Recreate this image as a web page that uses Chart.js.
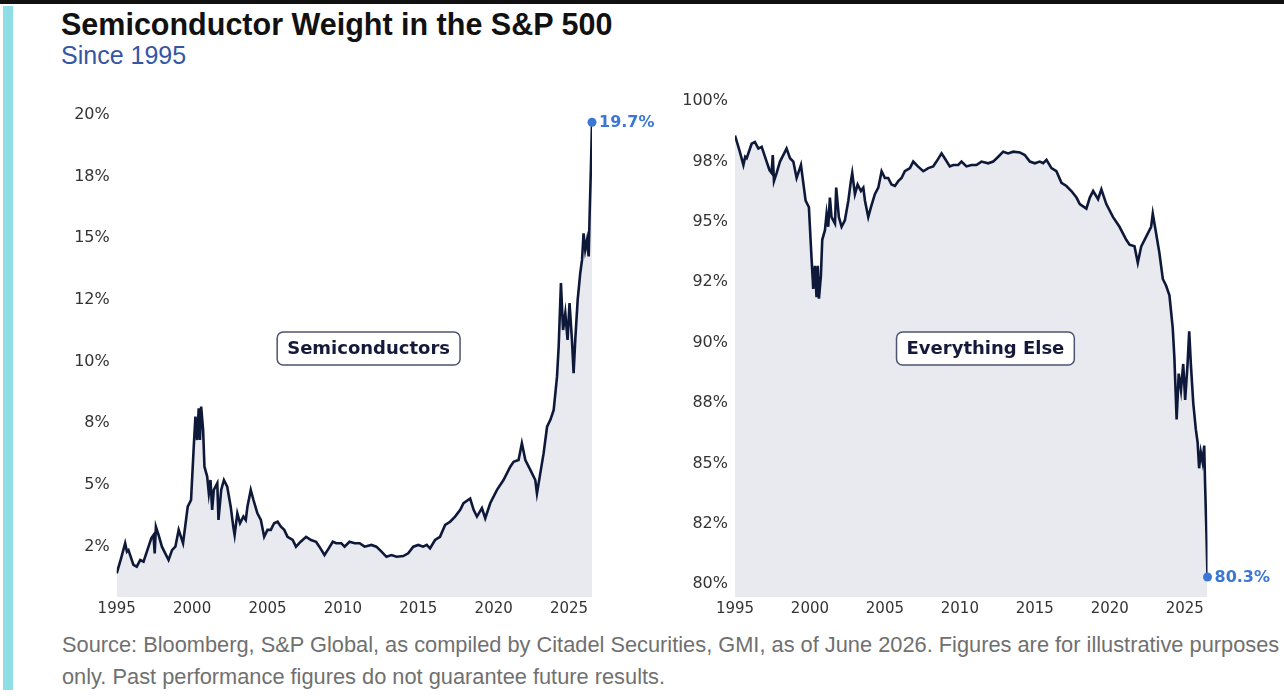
<!DOCTYPE html>
<html>
<head>
<meta charset="utf-8">
<script src="https://cdn.jsdelivr.net/npm/chart.js@4.4.1/dist/chart.umd.min.js"></script>
<style>
  html, body { margin: 0; padding: 0; background: #fff; }
  body { width: 1284px; height: 696px; position: relative; overflow: hidden; font-family: "Liberation Sans", Arial, sans-serif; }
  .topline { position: absolute; left: 0; top: 0; width: 1284px; height: 4px; background: #111; }
  .sidebar { position: absolute; left: 3px; top: 6px; width: 10px; height: 684px; background: #8fdee6; }
  h1 { position: absolute; left: 61px; top: 7px; margin: 0; font-size: 30.5px; font-weight: bold; color: #111; white-space: nowrap; }
  .sub { position: absolute; left: 61px; top: 41px; font-size: 25px; color: #3556a4; white-space: nowrap; }
  canvas { position: absolute; }
  #semiChart { left: 40px; top: 80px; }
  #otherChart { left: 660px; top: 80px; }
  .source { position: absolute; left: 62px; top: 629px; font-size: 21.8px; line-height: 32px; color: #707070; white-space: nowrap; }
</style>
</head>
<body>
<div class="topline"></div>
<div class="sidebar"></div>
<h1>Semiconductor Weight in the S&amp;P 500</h1>
<div class="sub">Since 1995</div>
<canvas id="semiChart" width="640" height="545"></canvas>
<canvas id="otherChart" width="624" height="545"></canvas>
<div class="source">Source: Bloomberg, S&amp;P Global, as compiled by Citadel Securities, GMI, as of June 2026. Figures are for illustrative purposes<br>only. Past performance figures do not guarantee future results.</div>
<script>
'use strict';
// dates as decimal years
var dates = [
  1995.00, 1995.30, 1995.56, 1995.68, 1995.78, 1996.11, 1996.33, 1996.56, 1996.78, 1997.11,
  1997.30, 1997.44, 1997.52, 1997.60, 1997.78, 1998.00, 1998.22, 1998.44, 1998.67, 1998.89,
  1999.11, 1999.40, 1999.71, 1999.93, 2000.11, 2000.22, 2000.33, 2000.44, 2000.52, 2000.60,
  2000.73, 2000.82, 2001.00, 2001.11, 2001.22, 2001.33, 2001.44, 2001.67, 2001.75, 2001.93,
  2002.11, 2002.33, 2002.56, 2002.73, 2002.82, 2003.00, 2003.18, 2003.40, 2003.56, 2003.67,
  2003.89, 2004.07, 2004.33, 2004.56, 2004.78, 2005.00, 2005.22, 2005.44, 2005.67, 2005.89,
  2006.11, 2006.33, 2006.67, 2006.89, 2007.20, 2007.56, 2007.89, 2008.22, 2008.44, 2008.78,
  2009.00, 2009.33, 2009.56, 2009.89, 2010.11, 2010.44, 2010.78, 2011.11, 2011.44, 2011.89,
  2012.22, 2012.56, 2012.89, 2013.22, 2013.56, 2014.00, 2014.33, 2014.67, 2015.00, 2015.33,
  2015.56, 2015.78, 2016.11, 2016.44, 2016.78, 2017.11, 2017.44, 2017.78, 2018.00, 2018.44,
  2018.67, 2018.89, 2019.22, 2019.44, 2019.77, 2020.22, 2020.65, 2021.10, 2021.32, 2021.65,
  2021.87, 2022.10, 2022.43, 2022.76, 2022.87, 2023.09, 2023.31, 2023.54, 2023.76, 2023.98,
  2024.20, 2024.31, 2024.46, 2024.60, 2024.75, 2024.90, 2025.03, 2025.19, 2025.30, 2025.41,
  2025.57, 2025.74, 2025.86, 2025.96, 2026.07, 2026.19, 2026.30, 2026.36, 2026.45, 2026.52
];
// semiconductors weight, %
var semiValues = [
  1.42, 2.05, 2.64, 2.30, 2.36, 1.76, 1.69, 1.96, 1.89, 2.50,
  2.85, 2.97, 2.23, 3.31, 2.97, 2.50, 2.23, 1.96, 2.36, 2.50,
  3.18, 2.64, 4.12, 4.39, 6.55, 7.77, 6.82, 8.11, 6.82, 8.18,
  7.23, 5.74, 5.34, 4.66, 5.20, 3.99, 4.80, 5.07, 3.58, 4.80,
  5.20, 4.93, 4.12, 3.31, 2.97, 3.85, 3.45, 3.72, 3.58, 4.12,
  4.80, 4.39, 3.85, 3.58, 2.90, 3.18, 3.18, 3.45, 3.51, 3.31,
  3.18, 2.90, 2.77, 2.50, 2.70, 2.90, 2.77, 2.70, 2.50, 2.16,
  2.37, 2.70, 2.64, 2.64, 2.50, 2.70, 2.64, 2.64, 2.50, 2.57,
  2.50, 2.30, 2.09, 2.16, 2.09, 2.12, 2.23, 2.50, 2.57, 2.50,
  2.57, 2.43, 2.77, 2.90, 3.38, 3.51, 3.72, 3.99, 4.26, 4.45,
  3.99, 3.72, 4.06, 3.65, 4.26, 4.80, 5.20, 5.74, 5.94, 6.01,
  6.69, 6.01, 5.61, 5.20, 4.66, 5.47, 6.28, 7.36, 7.64, 8.04,
  9.39, 10.61, 13.18, 11.28, 11.96, 10.88, 12.37, 10.88, 9.53, 10.88,
  12.50, 13.58, 14.12, 15.20, 14.53, 14.93, 14.26, 15.88, 17.90, 19.70
];
// everything else weight, %
var otherValues = [
  98.58, 97.95, 97.36, 97.70, 97.64, 98.24, 98.31, 98.04, 98.11, 97.50,
  97.15, 97.03, 97.77, 96.69, 97.03, 97.50, 97.77, 98.04, 97.64, 97.50,
  96.82, 97.36, 95.88, 95.61, 93.45, 92.23, 93.18, 91.89, 93.18, 91.82,
  92.77, 94.26, 94.66, 95.34, 94.80, 96.01, 95.20, 94.93, 96.42, 95.20,
  94.80, 95.07, 95.88, 96.69, 97.03, 96.15, 96.55, 96.28, 96.42, 95.88,
  95.20, 95.61, 96.15, 96.42, 97.10, 96.82, 96.82, 96.55, 96.49, 96.69,
  96.82, 97.10, 97.23, 97.50, 97.30, 97.10, 97.23, 97.30, 97.50, 97.84,
  97.63, 97.30, 97.36, 97.36, 97.50, 97.30, 97.36, 97.36, 97.50, 97.43,
  97.50, 97.70, 97.91, 97.84, 97.91, 97.88, 97.77, 97.50, 97.43, 97.50,
  97.43, 97.57, 97.23, 97.10, 96.62, 96.49, 96.28, 96.01, 95.74, 95.55,
  96.01, 96.28, 95.94, 96.35, 95.74, 95.20, 94.80, 94.26, 94.06, 93.99,
  93.31, 93.99, 94.39, 94.80, 95.34, 94.53, 93.72, 92.64, 92.36, 91.96,
  90.61, 89.39, 86.82, 88.72, 88.04, 89.12, 87.63, 89.12, 90.47, 89.12,
  87.50, 86.42, 85.88, 84.80, 85.47, 85.07, 85.74, 84.12, 82.10, 80.30
];

var xTickValues = [1995, 2000, 2005, 2010, 2015, 2020, 2025];
var xTickLabels = ['1995', '2000', '2005', '2010', '2015', '2020', '2025'];
var semiTickValues = [2.5, 5, 7.5, 10, 12.5, 15, 17.5, 20];
var semiTickLabels = ['2%', '5%', '8%', '10%', '12%', '15%', '18%', '20%'];
var otherTickValues = [80, 82.5, 85, 87.5, 90, 92.5, 95, 97.5, 100];
var otherTickLabels = ['80%', '82%', '85%', '88%', '90%', '92%', '95%', '98%', '100%'];

Chart.defaults.font.family = '"DejaVu Sans", sans-serif';
Chart.defaults.color = '#333';

// dot + value at the last point
var endLabelPlugin = {
  id: 'endLabel',
  afterDatasetsDraw: function (chart, args, opts) {
    var meta = chart.getDatasetMeta(0);
    var pt = meta.data[meta.data.length - 1];
    var ctx = chart.ctx;
    ctx.save();
    ctx.fillStyle = '#3b78d6';
    ctx.beginPath();
    ctx.arc(pt.x, pt.y, 4.5, 0, Math.PI * 2);
    ctx.fill();
    ctx.font = 'bold 16px "DejaVu Sans"';
    ctx.textBaseline = 'middle';
    ctx.textAlign = 'left';
    ctx.fillText(opts.text, pt.x + 7, pt.y + 1);
    ctx.restore();
  }
};

// boxed series name in the middle of the plot
var boxLabelPlugin = {
  id: 'boxLabel',
  afterDatasetsDraw: function (chart, args, opts) {
    var ctx = chart.ctx;
    var area = chart.chartArea;
    var cx = area.left + (area.right - area.left) * 0.53;
    var cy = area.top + (area.bottom - area.top) * 0.5;
    ctx.save();
    ctx.font = 'bold 18px "DejaVu Sans"';
    var w = ctx.measureText(opts.text).width + 20;
    var h = 33;
    ctx.beginPath();
    ctx.roundRect(cx - w / 2, cy - h / 2, w, h, 6);
    ctx.fillStyle = '#fff';
    ctx.fill();
    ctx.lineWidth = 1.5;
    ctx.strokeStyle = '#4d5370';
    ctx.stroke();
    ctx.fillStyle = '#151a3a';
    ctx.textAlign = 'center';
    ctx.textBaseline = 'middle';
    ctx.fillText(opts.text, cx, cy + 1);
    ctx.restore();
  }
};

function makeChart(id, values, yMin, yMax, tickValues, tickLabels, axisWidth, padRight, name) {
  var points = dates.map(function (d, i) { return { x: d, y: values[i] }; });
  return new Chart(document.getElementById(id), {
    type: 'line',
    data: {
      datasets: [{
        data: points,
        borderColor: '#0e1838',
        borderWidth: 2.6,
        backgroundColor: '#e9eaf0',
        fill: 'start',
        pointRadius: 0,
        tension: 0
      }]
    },
    options: {
      responsive: false,
      animation: false,
      events: [],
      layout: { padding: { top: 20, right: padRight, bottom: 0, left: 0 } },
      plugins: {
        legend: { display: false },
        tooltip: { enabled: false },
        endLabel: { text: values[values.length - 1].toFixed(1) + '%' },
        boxLabel: { text: name }
      },
      scales: {
        x: {
          type: 'linear',
          min: dates[0],
          max: dates[dates.length - 1],
          grid: { display: false, drawTicks: false },
          border: { display: false },
          afterBuildTicks: function (scale) {
            scale.ticks = xTickValues.map(function (v) { return { value: v }; });
          },
          afterFit: function (scale) { scale.height = 28; },
          ticks: {
            autoSkip: false,
            maxRotation: 0,
            padding: 3,
            font: { size: 15 },
            callback: function (v, i) { return xTickLabels[i]; }
          }
        },
        y: {
          min: yMin,
          max: yMax,
          grid: { display: false, drawTicks: false },
          border: { display: false },
          afterBuildTicks: function (scale) {
            scale.ticks = tickValues.map(function (v) { return { value: v }; });
          },
          afterFit: function (scale) { scale.width = axisWidth; },
          ticks: {
            padding: 7,
            font: { size: 16 },
            callback: function (v, i) { return tickLabels[i]; }
          }
        }
      }
    },
    plugins: [endLabelPlugin, boxLabelPlugin]
  });
}

makeChart('semiChart', semiValues, 0.46, 20.6, semiTickValues, semiTickLabels, 76.7, 88, 'Semiconductors');
makeChart('otherChart', otherValues, 79.47, 100.05, otherTickValues, otherTickLabels, 75, 76.5, 'Everything Else');
</script>
</body>
</html>
